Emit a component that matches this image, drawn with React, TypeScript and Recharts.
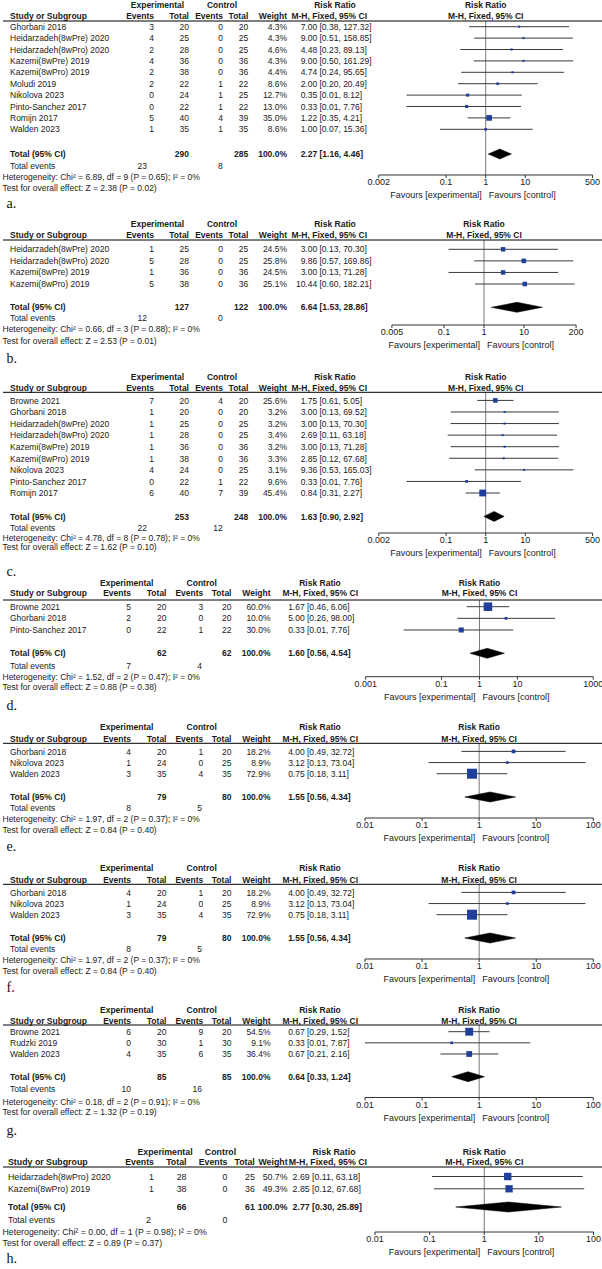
import React from 'react';
import { ComposedChart, Scatter, XAxis, YAxis, ReferenceLine, ErrorBar } from 'recharts';

const SANS = '"Liberation Sans", Arial, sans-serif';
const SERIF = '"Liberation Serif", "Times New Roman", serif';
const INK = '#1a1a1a';
const BOX = '#1f3f9a';

// ---------- a. ----------
const aStudies = ['Ghorbani 2018', 'Heidarzadeh(8wPre) 2020', 'Heidarzadeh(8wPro) 2020', 'Kazemi(8wPre) 2019', 'Kazemi(8wPro) 2019', 'Moludi 2019', 'Nikolova 2023', 'Pinto-Sanchez 2017', 'Romijn 2017', 'Walden 2023'];
const aExpEv = [3, 4, 2, 4, 2, 2, 0, 0, 5, 1];
const aExpTot = [20, 25, 28, 36, 38, 22, 24, 22, 40, 35];
const aCtrlEv = [0, 0, 0, 0, 0, 1, 1, 1, 4, 1];
const aCtrlTot = [20, 25, 25, 36, 36, 22, 25, 22, 39, 35];
const aWeight = [4.3, 4.3, 4.6, 4.3, 4.4, 8.6, 12.7, 13.0, 35.0, 8.6];
const aRR = [7.0, 9.0, 4.48, 9.0, 4.74, 2.0, 0.35, 0.33, 1.22, 1.0];
const aLo = [0.38, 0.51, 0.23, 0.5, 0.24, 0.2, 0.01, 0.01, 0.35, 0.07];
const aHi = [127.32, 158.85, 89.13, 161.29, 95.65, 20.49, 8.12, 7.76, 4.21, 15.36];
const aTotals = [290, 285];
const aTotalRR = [2.27, 1.16, 4.46];
const aTotalEvents = [23, 8];
const aHet = 'Heterogeneity: Chi² = 6.89, df = 9 (P = 0.65); I² = 0%';
const aTest = 'Test for overall effect: Z = 2.38 (P = 0.02)';
const aTicks = [0.002, 0.1, 1, 10, 500];
const aTickLabels = ['0.002', '0.1', '1', '10', '500'];

// ---------- b. ----------
const bStudies = ['Heidarzadeh(8wPre) 2020', 'Heidarzadeh(8wPro) 2020', 'Kazemi(8wPre) 2019', 'Kazemi(8wPro) 2019'];
const bExpEv = [1, 5, 1, 5];
const bExpTot = [25, 28, 36, 38];
const bCtrlEv = [0, 0, 0, 0];
const bCtrlTot = [25, 25, 36, 36];
const bWeight = [24.5, 25.8, 24.5, 25.1];
const bRR = [3.0, 9.86, 3.0, 10.44];
const bLo = [0.13, 0.57, 0.13, 0.6];
const bHi = [70.3, 169.86, 71.28, 182.21];
const bTotals = [127, 122];
const bTotalRR = [6.64, 1.53, 28.86];
const bTotalEvents = [12, 0];
const bHet = 'Heterogeneity: Chi² = 0.66, df = 3 (P = 0.88); I² = 0%';
const bTest = 'Test for overall effect: Z = 2.53 (P = 0.01)';
const bTicks = [0.005, 0.1, 1, 10, 200];
const bTickLabels = ['0.005', '0.1', '1', '10', '200'];

// ---------- c. ----------
const cStudies = ['Browne 2021', 'Ghorbani 2018', 'Heidarzadeh(8wPre) 2020', 'Heidarzadeh(8wPro) 2020', 'Kazemi(8wPre) 2019', 'Kazemi(8wPro) 2019', 'Nikolova 2023', 'Pinto-Sanchez 2017', 'Romijn 2017'];
const cExpEv = [7, 1, 1, 1, 1, 1, 4, 0, 6];
const cExpTot = [20, 20, 25, 28, 36, 38, 24, 22, 40];
const cCtrlEv = [4, 0, 0, 0, 0, 0, 0, 1, 7];
const cCtrlTot = [20, 20, 25, 25, 36, 36, 25, 22, 39];
const cWeight = [25.6, 3.2, 3.2, 3.4, 3.2, 3.3, 3.1, 9.6, 45.4];
const cRR = [1.75, 3.0, 3.0, 2.69, 3.0, 2.85, 9.36, 0.33, 0.84];
const cLo = [0.61, 0.13, 0.13, 0.11, 0.13, 0.12, 0.53, 0.01, 0.31];
const cHi = [5.05, 69.52, 70.3, 63.18, 71.28, 67.68, 165.03, 7.76, 2.27];
const cTotals = [253, 248];
const cTotalRR = [1.63, 0.9, 2.92];
const cTotalEvents = [22, 12];
const cHet = 'Heterogeneity: Chi² = 4.78, df = 8 (P = 0.78); I² = 0%';
const cTest = 'Test for overall effect: Z = 1.62 (P = 0.10)';
const cTicks = [0.002, 0.1, 1, 10, 500];
const cTickLabels = ['0.002', '0.1', '1', '10', '500'];

// ---------- d. ----------
const dStudies = ['Browne 2021', 'Ghorbani 2018', 'Pinto-Sanchez 2017'];
const dExpEv = [5, 2, 0];
const dExpTot = [20, 20, 22];
const dCtrlEv = [3, 0, 1];
const dCtrlTot = [20, 20, 22];
const dWeight = [60.0, 10.0, 30.0];
const dRR = [1.67, 5.0, 0.33];
const dLo = [0.46, 0.26, 0.01];
const dHi = [6.06, 98.0, 7.76];
const dTotals = [62, 62];
const dTotalRR = [1.6, 0.56, 4.54];
const dTotalEvents = [7, 4];
const dHet = 'Heterogeneity: Chi² = 1.52, df = 2 (P = 0.47); I² = 0%';
const dTest = 'Test for overall effect: Z = 0.88 (P = 0.38)';
const dTicks = [0.001, 0.1, 1, 10, 1000];
const dTickLabels = ['0.001', '0.1', '1', '10', '1000'];

// ---------- e. and f. (same analysis) ----------
const eStudies = ['Ghorbani 2018', 'Nikolova 2023', 'Walden 2023'];
const eExpEv = [4, 1, 3];
const eExpTot = [20, 24, 35];
const eCtrlEv = [1, 0, 4];
const eCtrlTot = [20, 25, 35];
const eWeight = [18.2, 8.9, 72.9];
const eRR = [4.0, 3.12, 0.75];
const eLo = [0.49, 0.13, 0.18];
const eHi = [32.72, 73.04, 3.11];
const eTotals = [79, 80];
const eTotalRR = [1.55, 0.56, 4.34];
const eTotalEvents = [8, 5];
const eHet = 'Heterogeneity: Chi² = 1.97, df = 2 (P = 0.37); I² = 0%';
const eTest = 'Test for overall effect: Z = 0.84 (P = 0.40)';
const eTicks = [0.01, 0.1, 1, 10, 100];
const eTickLabels = ['0.01', '0.1', '1', '10', '100'];

// ---------- g. ----------
const gStudies = ['Browne 2021', 'Rudzki 2019', 'Walden 2023'];
const gExpEv = [6, 0, 4];
const gExpTot = [20, 30, 35];
const gCtrlEv = [9, 1, 6];
const gCtrlTot = [20, 30, 35];
const gWeight = [54.5, 9.1, 36.4];
const gRR = [0.67, 0.33, 0.67];
const gLo = [0.29, 0.01, 0.21];
const gHi = [1.52, 7.87, 2.16];
const gTotals = [85, 85];
const gTotalRR = [0.64, 0.33, 1.24];
const gTotalEvents = [10, 16];
const gHet = 'Heterogeneity: Chi² = 0.18, df = 2 (P = 0.91); I² = 0%';
const gTest = 'Test for overall effect: Z = 1.32 (P = 0.19)';
const gTicks = [0.01, 0.1, 1, 10, 100];
const gTickLabels = ['0.01', '0.1', '1', '10', '100'];

// ---------- h. ----------
const hStudies = ['Heidarzadeh(8wPro) 2020', 'Kazemi(8wPro) 2019'];
const hExpEv = [1, 1];
const hExpTot = [28, 38];
const hCtrlEv = [0, 0];
const hCtrlTot = [25, 36];
const hWeight = [50.7, 49.3];
const hRR = [2.69, 2.85];
const hLo = [0.11, 0.12];
const hHi = [63.18, 67.68];
const hTotals = [66, 61];
const hTotalRR = [2.77, 0.3, 25.89];
const hTotalEvents = [2, 0];
const hHet = 'Heterogeneity: Chi² = 0.00, df = 1 (P = 0.98); I² = 0%';
const hTest = 'Test for overall effect: Z = 0.89 (P = 0.37)';
const hTicks = [0.01, 0.1, 1, 10, 100];
const hTickLabels = ['0.01', '0.1', '1', '10', '100'];

// column positions of the table part (three source image scalings)
type Cols = {
  study: number; ev1: number; tot1: number; ev2: number; tot2: number; wt: number;
  br: number; rrEnd: number; expC: number; ctrlC: number; rrC: number;
  totEv1: number; totEv2: number; fs: number;
};
const wide: Cols = { study: 10, ev1: 154, tot1: 189, ev2: 223, tot2: 248.3, wt: 287, br: 319.5, rrEnd: 367, expC: 157.5, ctrlC: 222, rrC: 335, totEv1: 147, totEv2: 222.7, fs: 8.5 };
const narrow: Cols = { study: 10, ev1: 131, tot1: 166.5, ev2: 203.3, tot2: 231.5, wt: 270.5, br: 307, rrEnd: 358, expC: 126.7, ctrlC: 201.7, rrC: 320, totEv1: 131, totEv2: 202, fs: 8.5 };
const last: Cols = { study: 8, ev1: 154, tot1: 186.5, ev2: 227.5, tot2: 254.8, wt: 287.6, br: 312, rrEnd: 367, expC: 165, ctrlC: 220.5, rrC: 334, totEv1: 151, totEv2: 227.5, fs: 8.8 };

// vertical placement of each panel on the page
type Place = {
  h1: number; h2: number; line: number; first: number; rowH: number; total: number;
  events: number; het: number; test: number; axis: number; label: number; x0: number; x1: number;
};

type Panel = {
  label: string; studies: string[]; expEv: number[]; expTot: number[]; ctrlEv: number[]; ctrlTot: number[];
  weight: number[]; rr: number[]; lo: number[]; hi: number[]; totals: number[]; totalRR: number[];
  totalEvents: number[]; het: string; test: string; ticks: number[]; tickLabels: string[];
  cols: Cols; place: Place;
};

const panels: Panel[] = [
  { label: 'a.', studies: aStudies, expEv: aExpEv, expTot: aExpTot, ctrlEv: aCtrlEv, ctrlTot: aCtrlTot, weight: aWeight, rr: aRR, lo: aLo, hi: aHi, totals: aTotals, totalRR: aTotalRR, totalEvents: aTotalEvents, het: aHet, test: aTest, ticks: aTicks, tickLabels: aTickLabels, cols: wide,
    place: { h1: 5, h2: 15.7, line: 21, first: 26.7, rowH: 11.4, total: 154, events: 165.5, het: 176.5, test: 187.5, axis: 175, label: 203, x0: 378.8, x1: 592.6 } },
  { label: 'b.', studies: bStudies, expEv: bExpEv, expTot: bExpTot, ctrlEv: bCtrlEv, ctrlTot: bCtrlTot, weight: bWeight, rr: bRR, lo: bLo, hi: bHi, totals: bTotals, totalRR: bTotalRR, totalEvents: bTotalEvents, het: bHet, test: bTest, ticks: bTicks, tickLabels: bTickLabels, cols: wide,
    place: { h1: 224, h2: 235, line: 240, first: 249.3, rowH: 11.57, total: 307.3, events: 318.3, het: 329.3, test: 340.5, axis: 325, label: 358.3, x0: 391.9, x1: 576.1 } },
  { label: 'c.', studies: cStudies, expEv: cExpEv, expTot: cExpTot, ctrlEv: cCtrlEv, ctrlTot: cCtrlTot, weight: cWeight, rr: cRR, lo: cLo, hi: cHi, totals: cTotals, totalRR: cTotalRR, totalEvents: cTotalEvents, het: cHet, test: cTest, ticks: cTicks, tickLabels: cTickLabels, cols: wide,
    place: { h1: 377.3, h2: 387.7, line: 392.3, first: 400.7, rowH: 11.575, total: 516.7, events: 527.7, het: 537.5, test: 547, axis: 533.3, label: 571.7, x0: 378.8, x1: 592.6 } },
  { label: 'd.', studies: dStudies, expEv: dExpEv, expTot: dExpTot, ctrlEv: dCtrlEv, ctrlTot: dCtrlTot, weight: dWeight, rr: dRR, lo: dLo, hi: dHi, totals: dTotals, totalRR: dTotalRR, totalEvents: dTotalEvents, het: dHet, test: dTest, ticks: dTicks, tickLabels: dTickLabels, cols: narrow,
    place: { h1: 583.3, h2: 593.3, line: 600, first: 606.7, rowH: 11.65, total: 653.3, events: 666, het: 676.5, test: 686.7, axis: 676.7, label: 705, x0: 365.7, x1: 593.3 } },
  { label: 'e.', studies: eStudies, expEv: eExpEv, expTot: eExpTot, ctrlEv: eCtrlEv, ctrlTot: eCtrlTot, weight: eWeight, rr: eRR, lo: eLo, hi: eHi, totals: eTotals, totalRR: eTotalRR, totalEvents: eTotalEvents, het: eHet, test: eTest, ticks: eTicks, tickLabels: eTickLabels, cols: narrow,
    place: { h1: 726.7, h2: 739.3, line: 743.3, first: 751.7, rowH: 11.15, total: 797.3, events: 808.3, het: 819, test: 830, axis: 818.3, label: 846, x0: 365, x1: 593.3 } },
  { label: 'f.', studies: eStudies, expEv: eExpEv, expTot: eExpTot, ctrlEv: eCtrlEv, ctrlTot: eCtrlTot, weight: eWeight, rr: eRR, lo: eLo, hi: eHi, totals: eTotals, totalRR: eTotalRR, totalEvents: eTotalEvents, het: eHet, test: eTest, ticks: eTicks, tickLabels: eTickLabels, cols: narrow,
    place: { h1: 867.7, h2: 880.3, line: 884.3, first: 892.7, rowH: 11.15, total: 938.3, events: 949.3, het: 960, test: 971, axis: 959.3, label: 987, x0: 365, x1: 593.3 } },
  { label: 'g.', studies: gStudies, expEv: gExpEv, expTot: gExpTot, ctrlEv: gCtrlEv, ctrlTot: gCtrlTot, weight: gWeight, rr: gRR, lo: gLo, hi: gHi, totals: gTotals, totalRR: gTotalRR, totalEvents: gTotalEvents, het: gHet, test: gTest, ticks: gTicks, tickLabels: gTickLabels, cols: narrow,
    place: { h1: 1010, h2: 1020.7, line: 1025, first: 1031.7, rowH: 11.15, total: 1076.7, events: 1089, het: 1101.5, test: 1112.3, axis: 1097.5, label: 1130, x0: 365, x1: 593.3 } },
  { label: 'h.', studies: hStudies, expEv: hExpEv, expTot: hExpTot, ctrlEv: hCtrlEv, ctrlTot: hCtrlTot, weight: hWeight, rr: hRR, lo: hLo, hi: hHi, totals: hTotals, totalRR: hTotalRR, totalEvents: hTotalEvents, het: hHet, test: hTest, ticks: hTicks, tickLabels: hTickLabels, cols: last,
    place: { h1: 1151.7, h2: 1161.7, line: 1167, first: 1176.5, rowH: 12.3, total: 1207, events: 1220, het: 1231.5, test: 1242.5, axis: 1232, label: 1258, x0: 375, x1: 593.5 } },
];

const f2 = (v: number) => v.toFixed(2);

const Square = (props: any) => {
  const w = props.payload?.w ?? props.w ?? 5;
  const side = Math.max(2, 1.6 + 0.115 * w);
  return <rect x={props.cx - side / 2} y={props.cy - side / 2} width={side} height={side} fill={BOX} />;
};

function Forest({ p }: { p: Panel }) {
  const s = p.place;
  const axisH = 30;
  const plotH = s.axis - s.line;
  const d0 = (s.line - s.first) / s.rowH;
  const d1 = (s.axis - s.first) / s.rowH;
  const tIdx = (s.total - s.first) / s.rowH;
  const dh = 5 / s.rowH;
  const rows = p.studies.map((_, i) => ({
    x: p.rr[i], y: i, w: p.weight[i], err: [p.rr[i] - p.lo[i], p.hi[i] - p.rr[i]],
  }));
  const [trr, tlo, thi] = p.totalRR;
  const diamond = [
    { x: tlo, y: tIdx }, { x: trr, y: tIdx - dh }, { x: thi, y: tIdx }, { x: trr, y: tIdx + dh }, { x: tlo, y: tIdx },
  ];
  return (
    <div style={{ position: 'absolute', left: 0, top: s.line, width: 602, height: plotH + axisH }}>
      <ComposedChart width={602} height={plotH + axisH} margin={{ top: 0, right: 602 - s.x1, bottom: 0, left: s.x0 }}>
        <XAxis
          type="number" dataKey="x" scale="log"
          domain={[p.ticks[0], p.ticks[p.ticks.length - 1]]}
          ticks={p.ticks} interval={0} allowDataOverflow height={axisH}
          tickSize={3} tickMargin={1}
          axisLine={{ stroke: '#333' }} tickLine={{ stroke: '#333' }}
          tick={{ fontSize: 9, fill: INK, fontFamily: SANS }}
          tickFormatter={(v: number) => p.tickLabels[p.ticks.indexOf(v)] ?? String(v)}
        />
        <YAxis type="number" dataKey="y" domain={[d0, d1]} reversed hide allowDataOverflow />
        <ReferenceLine x={1} stroke="#555" strokeWidth={0.8} />
        <Scatter data={rows} isAnimationActive={false} shape={Square}>
          <ErrorBar dataKey="err" direction="x" width={0} stroke="#3a3a3a" strokeWidth={1} />
        </Scatter>
        <Scatter
          data={diamond} isAnimationActive={false} shape={() => <g />}
          line={{ fill: '#000', stroke: '#000', strokeWidth: 0.5 }} lineType="joint"
        />
      </ComposedChart>
    </div>
  );
}

function PanelText({ p }: { p: Panel }) {
  const c = p.cols;
  const s = p.place;
  const mid = (s.x0 + s.x1) / 2;
  let k = 0;
  const T = (x: number, y: number, str: string | number, anchor: 'start' | 'middle' | 'end' = 'start', bold = false, size = c.fs) => (
    <text key={k++} x={x} y={y} textAnchor={anchor} dominantBaseline="central" fontSize={size}
      fontWeight={bold ? 'bold' : 'normal'} fontFamily={SANS} fill={INK}>{str}</text>
  );
  const out: React.ReactNode[] = [];
  // headers
  out.push(T(c.expC, s.h1, 'Experimental', 'middle', true));
  out.push(T(c.ctrlC, s.h1, 'Control', 'middle', true));
  out.push(T(c.rrC, s.h1, 'Risk Ratio', 'middle', true));
  out.push(T(mid, s.h1, 'Risk Ratio', 'middle', true));
  out.push(T(c.study, s.h2, 'Study or Subgroup', 'start', true));
  out.push(T(c.ev1, s.h2, 'Events', 'end', true));
  out.push(T(c.tot1, s.h2, 'Total', 'end', true));
  out.push(T(c.ev2, s.h2, 'Events', 'end', true));
  out.push(T(c.tot2, s.h2, 'Total', 'end', true));
  out.push(T(c.wt, s.h2, 'Weight', 'end', true));
  out.push(T(c.rrEnd, s.h2, 'M-H, Fixed, 95% CI', 'end', true));
  out.push(T(mid, s.h2, 'M-H, Fixed, 95% CI', 'middle', true));
  out.push(<line key={k++} x1={3} x2={602} y1={s.line} y2={s.line} stroke="#000" strokeWidth={1} />);
  // study rows
  p.studies.forEach((name, i) => {
    const y = s.first + i * s.rowH;
    out.push(T(c.study, y, name));
    out.push(T(c.ev1, y, p.expEv[i], 'end'));
    out.push(T(c.tot1, y, p.expTot[i], 'end'));
    out.push(T(c.ev2, y, p.ctrlEv[i], 'end'));
    out.push(T(c.tot2, y, p.ctrlTot[i], 'end'));
    out.push(T(c.wt, y, p.weight[i].toFixed(1) + '%', 'end'));
    out.push(T(c.br - 2.3, y, f2(p.rr[i]), 'end'));
    out.push(T(c.br, y, `[${f2(p.lo[i])}, ${f2(p.hi[i])}]`));
  });
  // totals
  out.push(T(c.study, s.total, 'Total (95% CI)', 'start', true));
  out.push(T(c.tot1, s.total, p.totals[0], 'end', true));
  out.push(T(c.tot2, s.total, p.totals[1], 'end', true));
  out.push(T(c.wt, s.total, '100.0%', 'end', true));
  out.push(T(c.br - 2.3, s.total, f2(p.totalRR[0]), 'end', true));
  out.push(T(c.br, s.total, `[${f2(p.totalRR[1])}, ${f2(p.totalRR[2])}]`, 'start', true));
  out.push(T(c.study, s.events, 'Total events'));
  out.push(T(c.totEv1, s.events, p.totalEvents[0], 'end'));
  out.push(T(c.totEv2, s.events, p.totalEvents[1], 'end'));
  out.push(T(2.5, s.het, p.het));
  out.push(T(2.5, s.test, p.test));
  // favours
  out.push(T(mid - 4, s.axis + 20, 'Favours [experimental]', 'end', false, 9));
  out.push(T(mid + 3, s.axis + 20, 'Favours [control]', 'start', false, 9));
  // panel letter
  out.push(
    <text key={k++} x={6.5} y={s.label} dominantBaseline="central" fontSize={14} fontFamily={SERIF} fill="#111">{p.label}</text>
  );
  return <g>{out}</g>;
}

export default function App() {
  return (
    <div style={{ position: 'absolute', left: 0, top: 0, width: 602, height: 1269, background: '#fff', overflow: 'hidden' }}>
      {panels.map((p) => <Forest key={p.label} p={p} />)}
      <svg width={602} height={1269} style={{ position: 'absolute', left: 0, top: 0, pointerEvents: 'none' }}>
        {panels.map((p) => <PanelText key={p.label} p={p} />)}
      </svg>
    </div>
  );
}
